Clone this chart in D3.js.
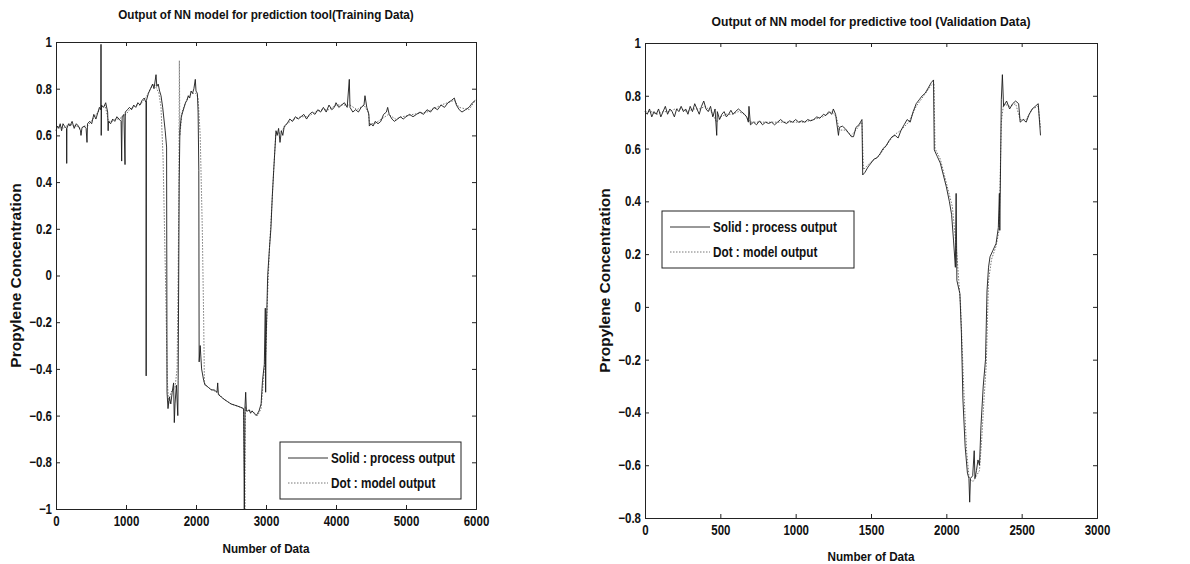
<!DOCTYPE html>
<html lang="en">
<head>
<meta charset="UTF-8">
<title>Output of NN model</title>
<script src="https://d3js.org/d3.v7.min.js"></script>
<style>
    body { margin: 0; background: #fff; }
    svg text { font-family: 'Liberation Sans', Arial, sans-serif; font-weight: bold; fill: #111; }
    .axis path, .axis line { stroke: #222; }
</style>
</head>
<body>
<svg id="chart" width="1190" height="564"></svg>
<script>
// ---- training data (left panel) ----
const trainIdx = [0,20,40,60,80,100,120,150,153,156,180,200,230,260,290,320,350,357,370,400,430,443,450,480,510,540,570,600,620,640,643,646,650,680,710,738,745,750,780,810,840,870,900,930,938,945,970,986,990,1020,1050,1080,1110,1140,1170,1200,1230,1260,1286,1288,1292,1320,1350,1380,1400,1429,1440,1460,1480,1500,1524,1560,1580,1586,1600,1620,1640,1660,1680,1690,1700,1720,1740,1745,1760,1770,1790,1810,1830,1850,1870,1890,1910,1930,1950,1970,1990,2000,2020,2030,2040,2045,2060,2080,2110,2130,2140,2180,2220,2260,2300,2310,2320,2360,2400,2450,2500,2550,2600,2643,2680,2690,2700,2710,2720,2740,2760,2780,2800,2830,2860,2881,2900,2930,2950,2976,2990,2995,3000,3024,3050,3070,3090,3110,3143,3160,3180,3200,3220,3240,3262,3300,3340,3380,3420,3460,3500,3540,3580,3620,3660,3700,3740,3780,3820,3860,3900,3940,3976,4000,4040,4080,4120,4160,4190,4200,4240,4280,4320,4360,4400,4414,4440,4470,4476,4500,4530,4560,4600,4640,4680,4720,4738,4760,4800,4833,4880,4920,4960,5000,5050,5100,5150,5200,5250,5300,5350,5400,5450,5500,5550,5600,5650,5690,5720,5760,5800,5850,5900,5950,5990];
const trainProcess = [0.62,0.64,0.63,0.65,0.62,0.65,0.64,0.63,0.48,0.63,0.65,0.64,0.66,0.63,0.65,0.64,0.62,0.60,0.63,0.64,0.63,0.57,0.65,0.66,0.65,0.69,0.67,0.70,0.72,0.71,0.99,0.60,0.73,0.72,0.74,0.70,0.62,0.66,0.65,0.67,0.66,0.68,0.67,0.66,0.49,0.68,0.69,0.475,0.70,0.71,0.72,0.71,0.73,0.72,0.74,0.73,0.75,0.76,0.74,-0.43,0.75,0.78,0.80,0.82,0.80,0.86,0.81,0.82,0.79,0.77,0.72,0.62,0.55,-0.50,-0.57,-0.52,-0.55,-0.50,-0.46,-0.63,-0.55,-0.47,-0.60,-0.45,0.40,0.62,0.68,0.70,0.72,0.74,0.75,0.77,0.76,0.79,0.78,0.80,0.84,0.79,0.78,0.70,0.45,-0.37,-0.30,-0.40,-0.45,-0.47,-0.47,-0.48,-0.49,-0.49,-0.50,-0.46,-0.51,-0.52,-0.53,-0.54,-0.55,-0.555,-0.56,-0.565,-0.57,-1.0,-0.56,-0.50,-0.58,-0.58,-0.575,-0.59,-0.58,-0.59,-0.60,-0.59,-0.58,-0.55,-0.45,-0.38,-0.14,-0.50,-0.30,0.00,0.12,0.20,0.34,0.45,0.62,0.60,0.63,0.57,0.62,0.60,0.64,0.65,0.67,0.66,0.68,0.67,0.68,0.69,0.67,0.69,0.70,0.69,0.71,0.70,0.72,0.70,0.73,0.71,0.72,0.74,0.72,0.73,0.74,0.72,0.84,0.72,0.70,0.71,0.70,0.72,0.73,0.77,0.72,0.69,0.64,0.65,0.64,0.66,0.65,0.66,0.69,0.70,0.72,0.69,0.67,0.66,0.67,0.68,0.67,0.68,0.69,0.68,0.69,0.70,0.69,0.71,0.70,0.72,0.71,0.73,0.72,0.74,0.75,0.76,0.73,0.71,0.70,0.71,0.72,0.74,0.75];
const trainModelIdx = [0,50,100,150,200,250,300,350,400,450,500,550,600,650,700,750,800,850,900,950,1000,1050,1100,1150,1200,1250,1300,1350,1400,1440,1470,1500,1530,1550,1570,1590,1610,1640,1670,1700,1730,1745,1755,1762,1770,1800,1850,1900,1950,2000,2030,2060,2090,2110,2120,2140,2200,2300,2400,2500,2600,2680,2698,2705,2720,2800,2880,2930,2970,3000,3020,3050,3080,3110,3140,3200,3300,3400,3500,3600,3700,3800,3900,4000,4100,4200,4300,4400,4460,4480,4550,4650,4750,4850,4950,5100,5300,5500,5690,5760,5900,5990];
const trainModel = [0.63,0.64,0.63,0.64,0.65,0.64,0.64,0.63,0.64,0.64,0.66,0.68,0.70,0.72,0.73,0.66,0.66,0.67,0.67,0.68,0.69,0.71,0.72,0.73,0.73,0.75,0.77,0.80,0.82,0.80,0.78,0.72,0.50,0.20,-0.10,-0.45,-0.55,-0.50,-0.49,-0.48,-0.40,0.00,0.35,0.92,0.60,0.70,0.74,0.77,0.78,0.78,0.76,0.60,0.20,-0.20,-0.46,-0.47,-0.485,-0.50,-0.53,-0.55,-0.56,-0.57,-1.0,-0.56,-0.58,-0.58,-0.60,-0.57,-0.42,-0.32,-0.10,0.12,0.28,0.45,0.61,0.61,0.65,0.67,0.68,0.68,0.70,0.71,0.71,0.73,0.73,0.73,0.71,0.73,0.70,0.65,0.65,0.67,0.69,0.67,0.68,0.69,0.70,0.73,0.75,0.72,0.71,0.75];

// ---- validation data (right panel) ----
const validIdx = [0,15,30,45,60,75,90,105,120,135,150,165,180,195,210,225,240,255,270,285,300,315,330,345,360,375,390,405,420,435,450,465,476,480,495,510,525,540,555,570,585,600,620,640,660,675,686,690,700,720,740,760,780,800,820,840,860,880,900,920,940,960,980,1000,1020,1040,1060,1080,1100,1120,1140,1160,1185,1200,1220,1240,1250,1265,1284,1290,1310,1330,1350,1370,1384,1400,1420,1440,1445,1460,1480,1500,1520,1540,1560,1580,1600,1620,1640,1660,1680,1700,1720,1740,1760,1780,1800,1820,1840,1860,1880,1900,1915,1920,1940,1960,1980,2000,2020,2035,2048,2060,2065,2070,2090,2100,2110,2125,2140,2150,2155,2160,2175,2185,2190,2200,2210,2220,2230,2245,2260,2270,2280,2290,2310,2330,2345,2352,2355,2365,2372,2380,2400,2420,2440,2460,2480,2490,2510,2530,2550,2570,2590,2610,2625];
const validProcess = [0.74,0.73,0.75,0.72,0.74,0.73,0.75,0.72,0.74,0.76,0.73,0.75,0.74,0.72,0.75,0.74,0.76,0.74,0.75,0.73,0.76,0.74,0.77,0.75,0.73,0.76,0.78,0.75,0.74,0.76,0.72,0.75,0.65,0.74,0.71,0.73,0.74,0.72,0.73,0.745,0.73,0.74,0.75,0.74,0.73,0.72,0.70,0.76,0.69,0.70,0.69,0.705,0.69,0.70,0.695,0.70,0.69,0.70,0.71,0.70,0.695,0.705,0.70,0.71,0.70,0.705,0.70,0.71,0.705,0.71,0.72,0.715,0.73,0.725,0.74,0.73,0.75,0.73,0.65,0.68,0.685,0.675,0.66,0.645,0.645,0.68,0.69,0.71,0.50,0.51,0.53,0.545,0.56,0.565,0.58,0.60,0.61,0.63,0.645,0.65,0.64,0.67,0.69,0.71,0.70,0.74,0.77,0.785,0.80,0.81,0.83,0.85,0.86,0.595,0.57,0.545,0.50,0.455,0.40,0.35,0.25,0.15,0.43,0.10,0.05,-0.10,-0.35,-0.53,-0.63,-0.65,-0.74,-0.65,-0.64,-0.545,-0.65,-0.62,-0.58,-0.60,-0.45,-0.30,-0.20,0.06,0.15,0.19,0.215,0.24,0.30,0.43,0.29,0.785,0.88,0.76,0.78,0.75,0.77,0.78,0.77,0.70,0.71,0.70,0.73,0.75,0.76,0.77,0.65];
const validModelIdx = [0,40,80,120,160,200,240,280,320,360,400,440,476,500,540,580,620,660,700,760,820,880,940,1000,1060,1120,1180,1240,1270,1290,1330,1370,1400,1440,1450,1500,1550,1600,1650,1700,1750,1800,1850,1900,1918,1925,1960,2000,2040,2070,2095,2115,2135,2150,2165,2180,2200,2220,2235,2250,2265,2280,2300,2330,2350,2365,2380,2420,2460,2490,2530,2570,2610,2625];
const validModel = [0.74,0.74,0.73,0.74,0.74,0.75,0.75,0.74,0.75,0.75,0.76,0.74,0.70,0.72,0.73,0.73,0.74,0.73,0.70,0.70,0.70,0.70,0.70,0.70,0.70,0.71,0.72,0.74,0.72,0.67,0.67,0.65,0.67,0.70,0.52,0.55,0.57,0.61,0.65,0.67,0.70,0.76,0.80,0.84,0.85,0.60,0.56,0.47,0.38,0.20,0.00,-0.30,-0.55,-0.64,-0.66,-0.66,-0.64,-0.62,-0.50,-0.35,-0.22,0.10,0.18,0.23,0.29,0.70,0.77,0.76,0.77,0.71,0.71,0.75,0.76,0.68];

const legendLabels = ["Solid : process output", "Dot : model output"];

const svg = d3.select("#chart");

// compress text horizontally around its own anchor point (scan looks like a narrow face)
function squeeze(sel, k) {
    sel.each(function () {
        const t = d3.select(this);
        const x = +t.attr("x") || 0, y = +t.attr("y") || 0;
        t.attr("transform", `translate(${x},${y}) scale(${k},1) translate(${-x},${-y})`);
    });
}

function drawPanel(cfg) {
    const x = d3.scaleLinear().domain(cfg.xDomain).range([cfg.left, cfg.right]);
    const y = d3.scaleLinear().domain(cfg.yDomain).range([cfg.bottom, cfg.top]);
    const g = svg.append("g");

    // data lines
    const line = d3.line().x(d => x(d[0])).y(d => y(d[1]));
    g.append("path")
        .datum(cfg.modelIdx.map((v, i) => [v, cfg.model[i]]))
        .attr("d", line)
        .attr("fill", "none")
        .attr("stroke", "#777")
        .attr("stroke-width", 1)
        .attr("stroke-dasharray", "1.5,1.5");
    g.append("path")
        .datum(cfg.idx.map((v, i) => [v, cfg.process[i]]))
        .attr("d", line)
        .attr("fill", "none")
        .attr("stroke", "#1a1a1a")
        .attr("stroke-width", 0.9);

    // axes, ticks inward (matlab style)
    const fmt = d => d3.format("")(+d.toFixed(1));
    g.append("g").attr("class", "axis")
        .attr("transform", `translate(0,${cfg.bottom})`)
        .call(d3.axisBottom(x).tickValues(cfg.xTicks).tickSize(-4).tickPadding(7).tickFormat(d3.format("d")))
        .call(a => a.selectAll("text").attr("font-size", 14).call(squeeze, 0.82));
    g.append("g").attr("class", "axis")
        .attr("transform", `translate(0,${cfg.top})`)
        .call(d3.axisTop(x).tickValues(cfg.xTicks).tickSize(-4).tickFormat(""));
    g.append("g").attr("class", "axis")
        .attr("transform", `translate(${cfg.left},0)`)
        .call(d3.axisLeft(y).tickValues(cfg.yTicks).tickSize(-4).tickPadding(4).tickFormat(fmt))
        .call(a => a.selectAll("text").attr("font-size", 14).call(squeeze, 0.82));
    g.append("g").attr("class", "axis")
        .attr("transform", `translate(${cfg.right},0)`)
        .call(d3.axisRight(y).tickValues(cfg.yTicks).tickSize(-4).tickFormat(""));
    g.selectAll(".axis .domain").attr("stroke-width", 1);

    // title and labels
    svg.append("text")
        .attr("x", (cfg.left + cfg.right) / 2).attr("y", cfg.titleY)
        .attr("text-anchor", "middle").attr("font-size", cfg.titleSize)
        .text(cfg.title)
        .call(squeeze, 0.9);
    svg.append("text")
        .attr("x", (cfg.left + cfg.right) / 2).attr("y", cfg.xLabelY)
        .attr("text-anchor", "middle").attr("font-size", 13)
        .text("Number of Data")
        .call(squeeze, 0.9);
    svg.append("text")
        .attr("transform", `translate(${cfg.yLabelX},${(cfg.top + cfg.bottom) / 2}) rotate(-90)`)
        .attr("text-anchor", "middle").attr("font-size", 15.5)
        .text("Propylene Concentration");

    // legend
    const lg = svg.append("g");
    lg.append("rect")
        .attr("x", cfg.legend.x).attr("y", cfg.legend.y)
        .attr("width", cfg.legend.w).attr("height", cfg.legend.h)
        .attr("fill", "#fff").attr("stroke", "#222").attr("stroke-width", 1);
    legendLabels.forEach((lab, i) => {
        const ly = cfg.legend.y + 16 + i * 25;
        lg.append("line")
            .attr("x1", cfg.legend.x + 8).attr("x2", cfg.legend.x + 48)
            .attr("y1", ly).attr("y2", ly)
            .attr("stroke", i === 0 ? "#333" : "#777")
            .attr("stroke-dasharray", i === 0 ? null : "1.5,1.5");
        lg.append("text")
            .attr("x", cfg.legend.x + 51).attr("y", ly + 5)
            .attr("font-size", 14)
            .text(lab)
            .call(squeeze, 0.84);
    });
}

drawPanel({
    left: 56, right: 476, top: 42, bottom: 509,
    xDomain: [0, 6000], yDomain: [-1, 1],
    xTicks: [0, 1000, 2000, 3000, 4000, 5000, 6000],
    yTicks: [-1, -0.8, -0.6, -0.4, -0.2, 0, 0.2, 0.4, 0.6, 0.8, 1],
    idx: trainIdx, process: trainProcess, modelIdx: trainModelIdx, model: trainModel,
    title: "Output of NN model for prediction tool(Training Data)", titleY: 19, titleSize: 13,
    xLabelY: 553, yLabelX: 21,
    legend: { x: 280, y: 442, w: 181, h: 57 }
});

drawPanel({
    left: 645, right: 1097, top: 43, bottom: 518,
    xDomain: [0, 3000], yDomain: [-0.8, 1],
    xTicks: [0, 500, 1000, 1500, 2000, 2500, 3000],
    yTicks: [-0.8, -0.6, -0.4, -0.2, 0, 0.2, 0.4, 0.6, 0.8, 1],
    idx: validIdx, process: validProcess, modelIdx: validModelIdx, model: validModel,
    title: "Output of NN model for predictive tool (Validation Data)", titleY: 26, titleSize: 13.5,
    xLabelY: 561, yLabelX: 610,
    legend: { x: 662, y: 211, w: 192, h: 57 }
});
</script>
</body>
</html>
